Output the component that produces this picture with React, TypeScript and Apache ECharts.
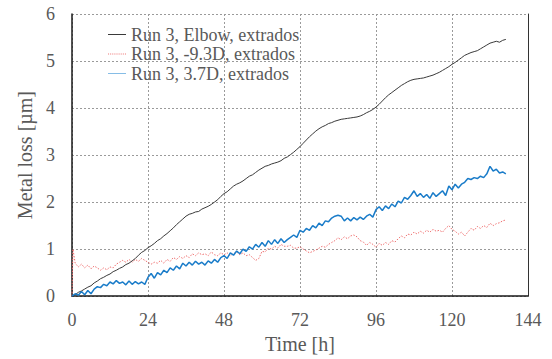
import React, { useEffect, useRef } from "react";
import * as echarts from "echarts";

const xTicks = [0, 24, 48, 72, 96, 120, 144];
const yTicks = [0, 1, 2, 3, 4, 5, 6];

const seriesNames = ["Run 3, Elbow, extrados", "Run 3, -9.3D, extrados", "Run 3, 3.7D, extrados"];

const elbowData: [number, number][] = [
  [0, 0], [1, 0.03], [2, 0.08], [3, 0.11], [4, 0.15], [5, 0.19], [6, 0.22], [7, 0.28], [8, 0.32], [9, 0.37],
  [10, 0.4], [11, 0.44], [12, 0.47], [13, 0.52], [14, 0.55], [15, 0.59], [16, 0.62], [17, 0.67], [18, 0.7],
  [19, 0.75], [20, 0.8], [21, 0.87], [22, 0.93], [23, 0.97], [24, 1.03], [25, 1.07], [26, 1.12], [27, 1.18],
  [28, 1.22], [29, 1.28], [30, 1.33], [31, 1.39], [32, 1.45], [33, 1.52], [34, 1.58], [35, 1.64], [36, 1.7],
  [37, 1.74], [38, 1.76], [39, 1.79], [40, 1.8], [41, 1.85], [42, 1.88], [43, 1.91], [44, 1.95], [45, 2.0],
  [46, 2.05], [47, 2.12], [48, 2.18], [49, 2.22], [50, 2.28], [51, 2.34], [52, 2.38], [53, 2.41], [54, 2.45],
  [55, 2.5], [56, 2.55], [57, 2.58], [58, 2.63], [59, 2.68], [60, 2.72], [61, 2.76], [62, 2.78], [63, 2.81],
  [64, 2.83], [65, 2.85], [66, 2.88], [67, 2.93], [68, 2.96], [69, 3.01], [70, 3.06], [71, 3.12], [72, 3.18],
  [73, 3.25], [74, 3.32], [75, 3.39], [76, 3.45], [77, 3.51], [78, 3.56], [79, 3.6], [80, 3.63], [81, 3.67],
  [82, 3.69], [83, 3.72], [84, 3.74], [85, 3.76], [86, 3.77], [87, 3.78], [88, 3.79], [89, 3.8], [90, 3.81],
  [91, 3.83], [92, 3.86], [93, 3.9], [94, 3.93], [95, 3.97], [96, 4.02], [97, 4.08], [98, 4.15], [99, 4.22],
  [100, 4.28], [101, 4.33], [102, 4.38], [103, 4.43], [104, 4.48], [105, 4.52], [106, 4.56], [107, 4.59],
  [108, 4.61], [109, 4.62], [110, 4.63], [111, 4.64], [112, 4.66], [113, 4.68], [114, 4.7], [115, 4.73],
  [116, 4.76], [117, 4.8], [118, 4.84], [119, 4.88], [120, 4.93], [121, 4.97], [122, 5.02], [123, 5.07],
  [124, 5.12], [125, 5.15], [126, 5.18], [127, 5.2], [128, 5.22], [129, 5.26], [130, 5.3], [131, 5.34],
  [132, 5.38], [133, 5.4], [134, 5.42], [135, 5.4], [136, 5.44], [137, 5.46],
];

const minus93Data: [number, number][] = [
  [0, 0], [0.3, 1.0], [1, 0.7], [2, 0.62], [3, 0.68], [4, 0.6], [5, 0.66], [6, 0.58], [7, 0.64], [8, 0.6],
  [9, 0.55], [10, 0.6], [11, 0.56], [12, 0.62], [13, 0.6], [14, 0.68], [15, 0.72], [16, 0.76], [17, 0.72],
  [18, 0.78], [19, 0.72], [20, 0.78], [21, 0.74], [22, 0.8], [23, 0.76], [24, 0.72], [25, 0.68], [26, 0.72],
  [27, 0.7], [28, 0.76], [29, 0.7], [30, 0.78], [31, 0.74], [32, 0.82], [33, 0.78], [34, 0.84], [35, 0.8],
  [36, 0.86], [37, 0.82], [38, 0.9], [39, 0.86], [40, 0.92], [41, 0.88], [42, 0.9], [43, 0.86], [44, 0.94],
  [45, 0.88], [46, 0.86], [47, 0.92], [48, 0.88], [49, 0.92], [50, 0.86], [51, 0.9], [52, 0.94], [53, 0.88],
  [54, 0.92], [55, 0.86], [56, 0.88], [57, 0.82], [58, 0.76], [59, 0.8], [60, 0.95], [61, 0.94], [62, 1.02],
  [63, 1.0], [64, 1.06], [65, 1.02], [66, 1.1], [67, 1.06], [68, 1.06], [69, 1.08], [70, 1.02], [71, 1.02],
  [72, 1.05], [73, 1.0], [74, 0.96], [75, 0.92], [76, 0.95], [77, 0.98], [78, 1.02], [79, 1.06], [80, 1.04],
  [81, 1.1], [82, 1.14], [83, 1.18], [84, 1.24], [85, 1.2], [86, 1.26], [87, 1.22], [88, 1.28], [89, 1.3],
  [90, 1.26], [91, 1.18], [92, 1.15], [93, 1.08], [94, 1.14], [95, 1.1], [96, 1.04], [97, 1.12], [98, 1.08],
  [99, 1.14], [100, 1.1], [101, 1.18], [102, 1.15], [103, 1.22], [104, 1.28], [105, 1.24], [106, 1.32],
  [107, 1.3], [108, 1.36], [109, 1.32], [110, 1.38], [111, 1.34], [112, 1.4], [113, 1.36], [114, 1.42],
  [115, 1.38], [116, 1.4], [117, 1.36], [118, 1.44], [119, 1.5], [120, 1.42], [121, 1.38], [122, 1.32],
  [123, 1.36], [124, 1.28], [125, 1.36], [126, 1.44], [127, 1.4], [128, 1.48], [129, 1.44], [130, 1.5],
  [131, 1.46], [132, 1.55], [133, 1.5], [134, 1.54], [135, 1.56], [136, 1.6], [137, 1.62],
];

const plus37Data: [number, number][] = [
  [0, 0], [1, 0.05], [2, 0.02], [3, 0.1], [4, 0.03], [5, 0.12], [6, 0.05], [7, 0.15], [8, 0.2], [9, 0.18],
  [10, 0.25], [11, 0.22], [12, 0.3], [13, 0.26], [14, 0.33], [15, 0.27], [16, 0.3], [17, 0.24], [18, 0.32],
  [19, 0.25], [20, 0.31], [21, 0.26], [22, 0.3], [23, 0.25], [24, 0.4], [25, 0.48], [26, 0.38], [27, 0.5],
  [28, 0.45], [29, 0.55], [30, 0.5], [31, 0.6], [32, 0.55], [33, 0.64], [34, 0.58], [35, 0.7], [36, 0.64],
  [37, 0.72], [38, 0.66], [39, 0.74], [40, 0.68], [41, 0.72], [42, 0.66], [43, 0.75], [44, 0.7], [45, 0.78],
  [46, 0.72], [47, 0.82], [48, 0.86], [49, 0.8], [50, 0.92], [51, 0.87], [52, 0.96], [53, 0.9], [54, 1.0],
  [55, 0.95], [56, 1.05], [57, 1.0], [58, 1.1], [59, 1.04], [60, 1.14], [61, 1.06], [62, 1.18], [63, 1.1],
  [64, 1.2], [65, 1.12], [66, 1.22], [67, 1.14], [68, 1.2], [69, 1.25], [70, 1.3], [71, 1.25], [72, 1.4],
  [73, 1.36], [74, 1.44], [75, 1.4], [76, 1.5], [77, 1.45], [78, 1.55], [79, 1.5], [80, 1.6], [81, 1.58],
  [82, 1.66], [83, 1.7], [84, 1.72], [85, 1.7], [86, 1.6], [87, 1.66], [88, 1.6], [89, 1.67], [90, 1.62],
  [91, 1.68], [92, 1.63], [93, 1.7], [94, 1.74], [95, 1.68], [96, 1.84], [97, 1.9], [98, 1.82], [99, 1.92],
  [100, 1.86], [101, 1.96], [102, 1.9], [103, 2.02], [104, 1.98], [105, 2.1], [106, 2.06], [107, 2.14],
  [108, 2.24], [109, 2.12], [110, 2.18], [111, 2.1], [112, 2.16], [113, 2.08], [114, 2.2], [115, 2.12],
  [116, 2.18], [117, 2.24], [118, 2.14], [119, 2.34], [120, 2.26], [121, 2.38], [122, 2.3], [123, 2.38],
  [124, 2.42], [125, 2.5], [126, 2.48], [127, 2.52], [128, 2.5], [129, 2.55], [130, 2.52], [131, 2.6],
  [132, 2.76], [133, 2.66], [134, 2.7], [135, 2.62], [136, 2.64], [137, 2.6],
];

const FONT = "Liberation Serif";
const TEXT = "#595959";
const GRID = { color: "#9a9a9a", width: 1, type: [2, 2] as number[] };

const ICON_SOLID = "path://M0,0H18V1H0Z";
const ICON_DOTS =
  "path://M0,0H1V1H0Z M2,0H3V1H2Z M4,0H5V1H4Z M6,0H7V1H6Z M8,0H9V1H8Z M10,0H11V1H10Z M12,0H13V1H12Z M14,0H15V1H14Z M16,0H17V1H16Z";

export default function App() {
  const ref = useRef<HTMLDivElement>(null);
  useEffect(() => {
    if (!ref.current) return;
    const chart = echarts.init(ref.current, undefined, { renderer: "svg" });
    chart.setOption({
      animation: false,
      backgroundColor: "#ffffff",
      textStyle: { fontFamily: FONT },
      grid: { left: 72, right: 24, top: 14, bottom: 57, containLabel: false },
      legend: {
        orient: "vertical",
        left: 103,
        top: 20,
        itemWidth: 18,
        itemHeight: 1.5,
        itemGap: 0.5,
        textStyle: { fontFamily: FONT, fontSize: 18, lineHeight: 19, color: TEXT },
        data: [
          { name: seriesNames[0], icon: ICON_SOLID, itemStyle: { color: "#3a3a3a" } },
          { name: seriesNames[1], icon: ICON_DOTS, itemStyle: { color: "#ee7a7a" } },
          { name: seriesNames[2], icon: ICON_SOLID, itemStyle: { color: "#86bde6" } },
        ],
      },
      xAxis: {
        type: "value",
        min: 0,
        max: 144,
        interval: 24,
        name: "Time [h]",
        nameLocation: "middle",
        nameGap: 35,
        nameTextStyle: { fontFamily: FONT, fontSize: 20, color: TEXT },
        axisLine: { show: true, onZero: false, lineStyle: { color: "#1a1a1a", width: 1.5 } },
        axisTick: { show: false },
        axisLabel: {
          fontFamily: FONT,
          fontSize: 18,
          color: TEXT,
          margin: 15,
          formatter: (v: number) => (xTicks.includes(v) ? String(v) : ""),
        },
        splitLine: { show: true, lineStyle: GRID },
      },
      yAxis: [
        {
          type: "value",
          min: 0,
          max: 6,
          interval: 1,
          name: "Metal loss [µm]",
          nameLocation: "middle",
          nameGap: 37,
          nameTextStyle: { fontFamily: FONT, fontSize: 20, color: TEXT },
          axisLine: { show: true, lineStyle: { color: "#1a1a1a", width: 1.5 } },
          axisTick: { show: false },
          axisLabel: {
            fontFamily: FONT,
            fontSize: 18,
            color: TEXT,
            margin: 17,
            formatter: (v: number) => (yTicks.includes(v) ? String(v) : ""),
          },
          splitLine: { show: true, lineStyle: GRID },
        },
        {
          type: "value",
          min: 0,
          max: 6,
          interval: 1,
          position: "right",
          axisLine: { show: true, lineStyle: { color: "#333333", width: 1 } },
          axisTick: { show: false },
          axisLabel: { show: false },
          splitLine: { show: false },
        },
      ],
      series: [
        {
          name: seriesNames[0],
          type: "line",
          data: elbowData,
          showSymbol: false,
          symbol: "none",
          lineStyle: { color: "#3a3a3a", width: 1 },
          itemStyle: { color: "#3a3a3a" },
          z: 3,
        },
        {
          name: seriesNames[1],
          type: "line",
          data: minus93Data,
          showSymbol: false,
          symbol: "none",
          lineStyle: { color: "#ee6f6f", width: 1, type: [1.5, 1.5] },
          itemStyle: { color: "#ee6f6f" },
          z: 2,
        },
        {
          name: seriesNames[2],
          type: "line",
          data: plus37Data,
          showSymbol: false,
          symbol: "none",
          lineStyle: { color: "#1a7cc9", width: 1.5 },
          itemStyle: { color: "#1a7cc9" },
          z: 4,
        },
      ],
    });
    return () => chart.dispose();
  }, []);
  return <div ref={ref} style={{ width: 552, height: 359, position: "absolute", left: 0, top: 0 }} />;
}
